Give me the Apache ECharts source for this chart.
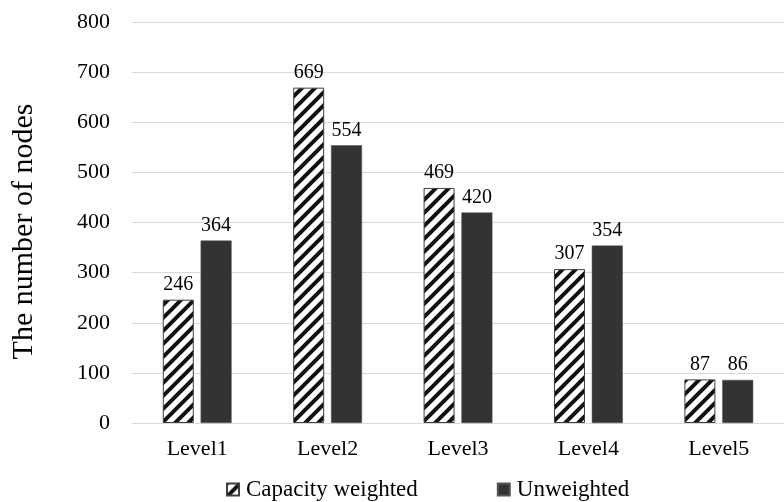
<!DOCTYPE html>
<html>
<head>
<meta charset="utf-8">
<script src="https://cdn.jsdelivr.net/npm/echarts@6/dist/echarts.min.js"></script>
<style>
  html, body { margin: 0; padding: 0; background: #fff; }
  #chart { width: 784px; height: 502px; }
</style>
</head>
<body>
<div id="chart"></div>
<script>
// Node counts per level
const categories = ['Level1', 'Level2', 'Level3', 'Level4', 'Level5'];
const capacityWeighted = [246, 669, 469, 307, 87];
const unweighted = [364, 554, 420, 354, 86];
const yTicks = { min: 0, max: 800, interval: 100 };

// Diagonal hatch fill for the capacity-weighted bars
function makeHatch() {
  const size = 13;
  const c = document.createElement('canvas');
  c.width = size; c.height = size;
  const ctx = c.getContext('2d');
  ctx.fillStyle = '#ffffff';
  ctx.fillRect(0, 0, size, size);
  ctx.strokeStyle = '#111111';
  ctx.lineWidth = 4;
  ctx.beginPath();
  for (let k = -1; k <= 1; k++) {
    ctx.moveTo(k * size - size, size * 2);
    ctx.lineTo(k * size + size * 2, -size);
  }
  ctx.stroke();
  return c;
}
const hatch = makeHatch();

const serif = 'Liberation Serif, Times New Roman, serif';
const chart = echarts.init(document.getElementById('chart'), null, { renderer: 'canvas' });

chart.setOption({
  animation: false,
  textStyle: { fontFamily: serif, color: '#000' },
  grid: { left: 132, top: 22, width: 663, height: 401, containLabel: false },
  legend: {
    top: 473,
    left: 221,
    itemGap: 79,
    itemWidth: 12,
    itemHeight: 12,
    textStyle: { fontFamily: serif, fontSize: 23, color: '#000', padding: [0, 0, 0, 2] },
    data: [
      { name: 'Capacity weighted', icon: 'rect' },
      { name: 'Unweighted', icon: 'rect' }
    ]
  },
  xAxis: {
    type: 'category',
    data: categories,
    axisLine: { lineStyle: { color: '#d9d9d9', width: 1 } },
    axisTick: { show: false },
    axisLabel: { fontFamily: serif, fontSize: 22, color: '#000', margin: 15 }
  },
  yAxis: {
    type: 'value',
    min: yTicks.min,
    max: yTicks.max,
    interval: yTicks.interval,
    name: 'The number of nodes',
    nameLocation: 'middle',
    nameGap: 93,
    nameTextStyle: { fontFamily: serif, fontSize: 30, color: '#000', padding: [0, 18, 0, 0] },
    axisLine: { show: false },
    axisTick: { show: false },
    splitLine: { lineStyle: { color: '#d9d9d9', width: 1 } },
    axisLabel: { fontFamily: serif, fontSize: 22, color: '#000', margin: 22 }
  },
  series: [
    {
      name: 'Capacity weighted',
      type: 'bar',
      data: capacityWeighted,
      barWidth: 31,
      barGap: '22%',
      itemStyle: {
        color: { image: hatch, repeat: 'repeat' },
        borderColor: '#404040',
        borderWidth: 1
      },
      label: { show: true, position: 'top', distance: 5, fontFamily: serif, fontSize: 20, color: '#000' }
    },
    {
      name: 'Unweighted',
      type: 'bar',
      data: unweighted,
      barWidth: 31,
      itemStyle: { color: '#333333', borderColor: '#555555', borderWidth: 0.5 },
      label: { show: true, position: 'top', distance: 5, fontFamily: serif, fontSize: 20, color: '#000' }
    }
  ]
});
</script>
</body>
</html>
